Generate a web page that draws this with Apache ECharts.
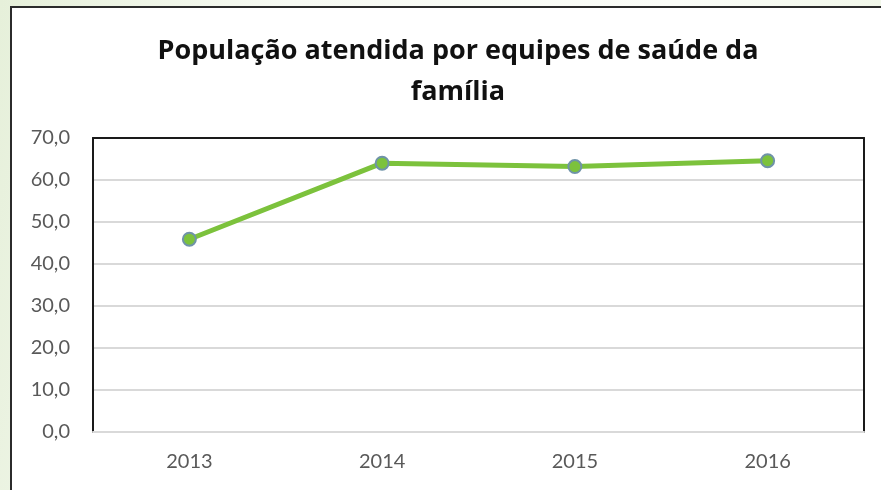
<!DOCTYPE html>
<html lang="pt">
<head>
    <meta charset="UTF-8">
    <title>População atendida por equipes de saúde da família</title>
    <script src="https://cdn.jsdelivr.net/npm/echarts@6/dist/echarts.min.js"></script>
    <style>
        html, body { margin: 0; padding: 0; width: 881px; height: 490px; overflow: hidden;
            background: linear-gradient(100deg, #e6f0da 0%, #f7faf3 30%, #fbfdf8 70%, #eef5e4 100%); }
        #frame { position: absolute; left: 10px; top: 6px; width: 890px; height: 500px;
            border: 2px solid #2b2b2b; background: #fff; }
        #chart { position: absolute; left: 0; top: 0; width: 881px; height: 490px; }
    </style>
</head>
<body>
    <div id="frame"></div>
    <div id="chart"></div>
<script>
    // anos e valores
    var anos = ['2013', '2014', '2015', '2016'];
    var populacao = [45.9, 64.0, 63.2, 64.6];
    var titulo = 'População atendida por equipes de saúde da\nfamília';

    var chart = echarts.init(document.getElementById('chart'));
    var fonte = 'Lato';
    var option = {
        backgroundColor: 'transparent',
        animation: false,
        title: {
            text: titulo,
            left: 453,
            top: 26,
            textAlign: 'center',
            textStyle: {
                fontFamily: 'Open Sans',
                fontWeight: 'bold',
                fontSize: 27,
                lineHeight: 41,
                color: '#111'
            }
        },
        grid: {
            left: 93,
            top: 138,
            width: 771,
            height: 294,
            show: false
        },
        xAxis: [{
            type: 'category',
            data: anos,
            axisLine: { show: true, onZero: false, lineStyle: { color: '#d9d9d9', width: 2 } },
            axisTick: { show: false },
            axisLabel: { margin: 20, color: '#595959', fontSize: 20, fontFamily: fonte }
        }, {
            // borda superior da área do gráfico
            type: 'category',
            position: 'top',
            data: anos,
            axisLine: { show: true, onZero: false, lineStyle: { color: '#1a1a1a', width: 2 } },
            axisTick: { show: false },
            axisLabel: { show: false }
        }],
        yAxis: [{
            type: 'value',
            min: 0,
            max: 70,
            interval: 10,
            axisLine: { show: true, onZero: false, lineStyle: { color: '#1a1a1a', width: 2 } },
            axisTick: { show: false },
            splitLine: { showMaxLine: false, showMinLine: false, lineStyle: { color: '#d9d9d9', width: 2 } },
            axisLabel: {
                margin: 23,
                color: '#595959',
                fontSize: 20,
                fontFamily: fonte,
                formatter: function (v) { return v.toFixed(1).replace('.', ','); }
            }
        }, {
            // borda direita
            type: 'value',
            position: 'right',
            min: 0,
            max: 70,
            interval: 10,
            axisLine: { show: true, onZero: false, lineStyle: { color: '#1a1a1a', width: 2 } },
            axisTick: { show: false },
            splitLine: { show: false },
            axisLabel: { show: false }
        }],
        series: [{
            type: 'line',
            data: populacao,
            symbol: 'circle',
            symbolSize: 13,
            lineStyle: { color: '#7cc23c', width: 5 },
            itemStyle: { color: '#7cc23c', borderColor: '#6f93a8', borderWidth: 2 },
            z: 5
        }]
    };
    chart.setOption(option);
</script>
</body>
</html>
